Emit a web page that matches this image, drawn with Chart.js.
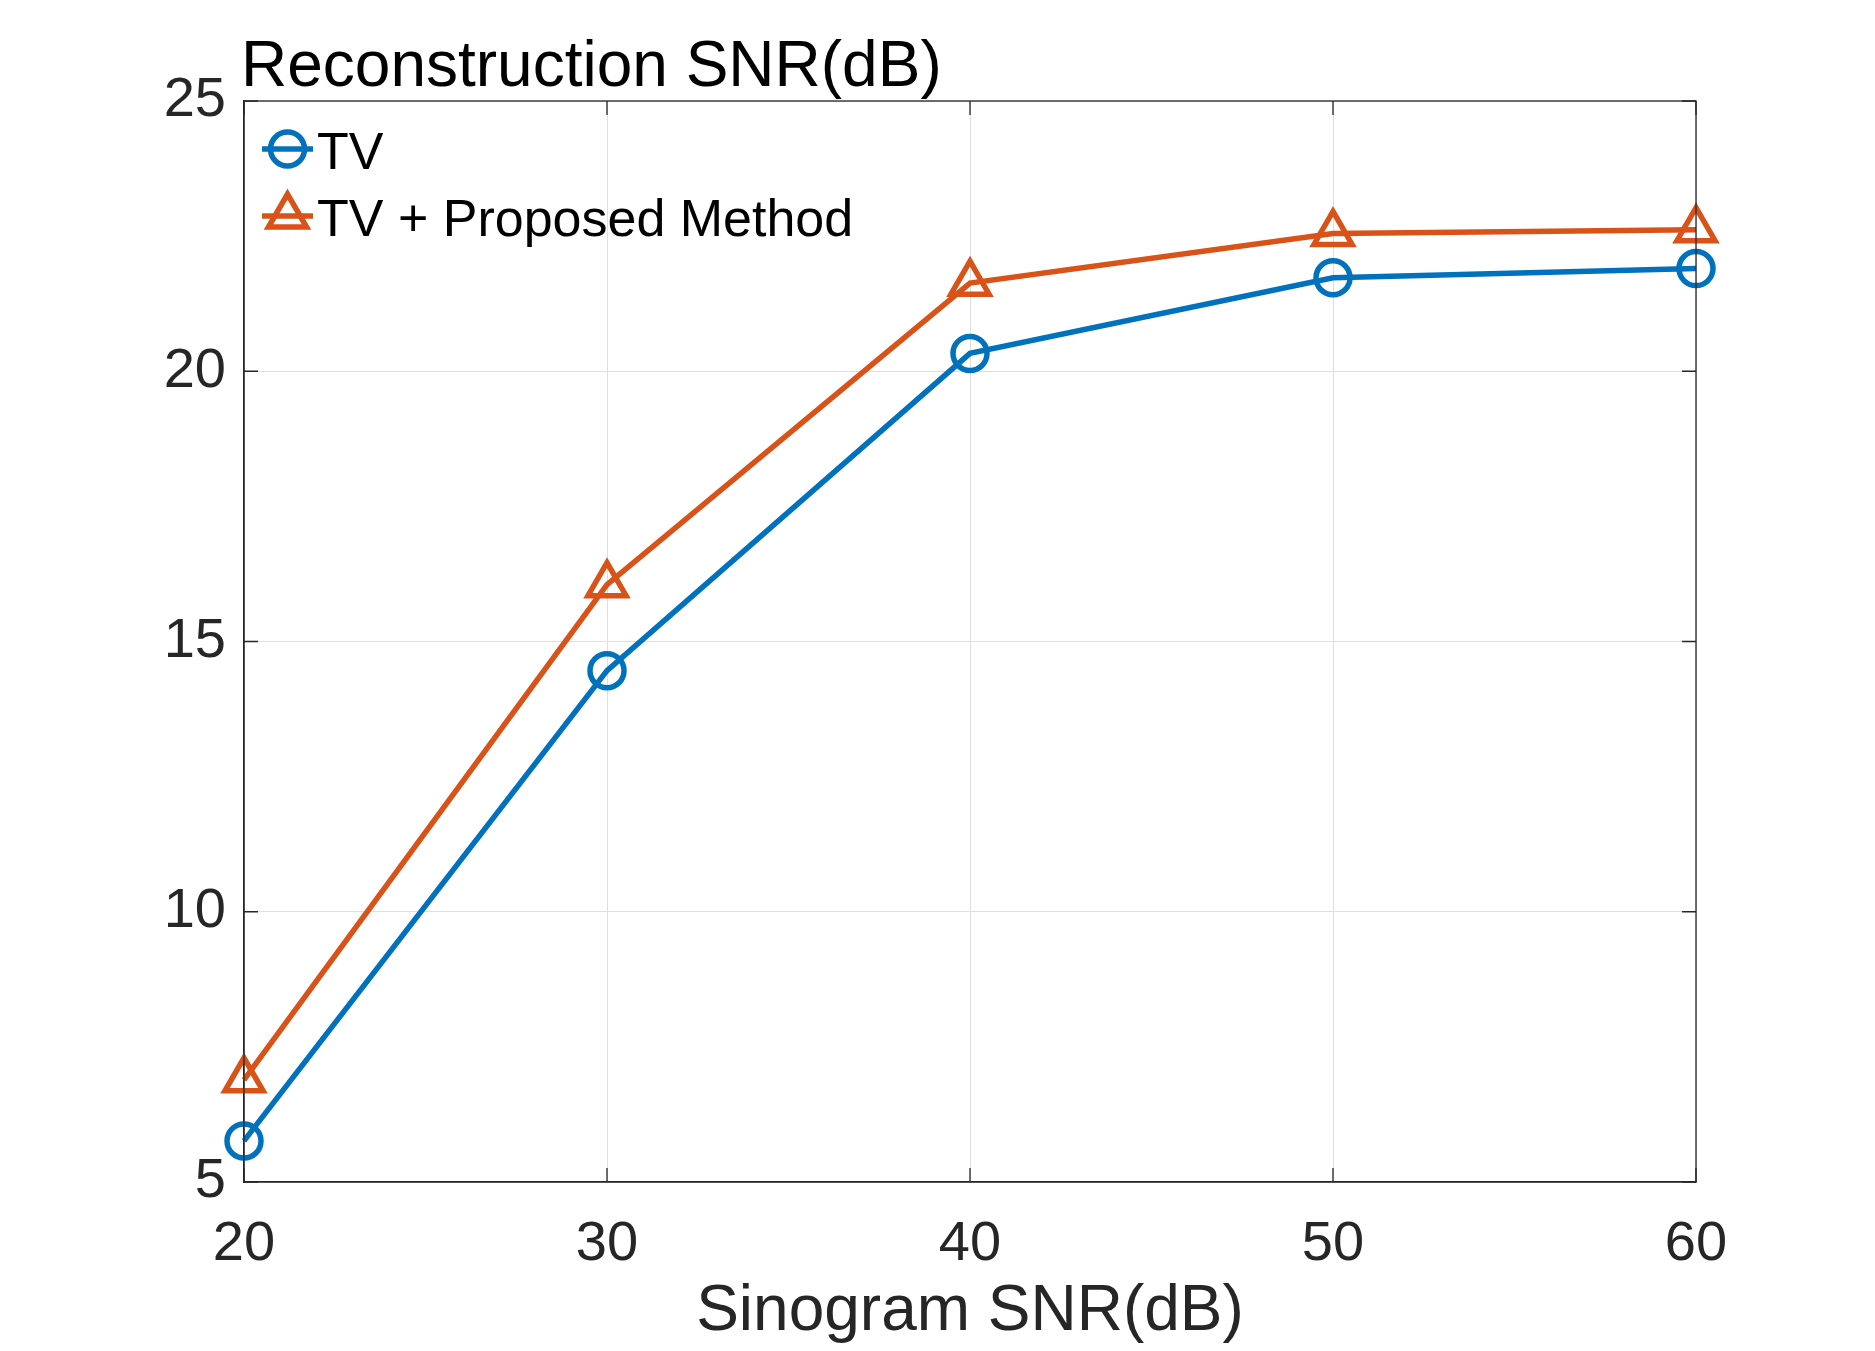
<!DOCTYPE html>
<html lang="en">
<head>
    <meta charset="UTF-8">
    <title>Reconstruction SNR</title>
    <script src="https://cdn.jsdelivr.net/npm/chart.js"></script>
    <style>
        body {
            margin: 0;
            background-color: #ffffff;
        }
        .chart-box {
            width: 1875px;
            height: 1351px;
        }
    </style>
</head>
<body>
    <div class="chart-box">
        <canvas id="snrChart" width="1875" height="1351"></canvas>
    </div>

    <script>
        // values
        const sinogramSnr = [20, 30, 40, 50, 60];
        const tvSnr = [5.76, 14.46, 20.33, 21.73, 21.9];
        const proposedSnr = [6.89, 16.05, 21.63, 22.55, 22.62];
        const xTicks = [20, 30, 40, 50, 60];
        const yTicks = [5, 10, 15, 20, 25];
        const seriesNames = ['TV', 'TV + Proposed Method'];

        const FONT = '"Liberation Sans", Arial, Helvetica, sans-serif';
        const AXIS_COLOR = '#262626';
        const GRID_COLOR = '#dfdfdf';
        const LINE_W = 5.5;

        const toPoints = ys => sinogramSnr.map((x, i) => ({ x: x, y: ys[i] }));

        // box, inner tick marks, title and legend, drawn the MATLAB way
        const matlabFrame = {
            id: 'matlabFrame',
            afterDraw(chart) {
                const { ctx, chartArea: a, scales: { x, y } } = chart;
                ctx.save();
                ctx.strokeStyle = AXIS_COLOR;
                ctx.lineWidth = 1.3;
                ctx.strokeRect(a.left, a.top, a.right - a.left, a.bottom - a.top);

                ctx.beginPath();
                xTicks.forEach(v => {
                    const px = x.getPixelForValue(v);
                    ctx.moveTo(px, a.bottom); ctx.lineTo(px, a.bottom - 14);
                    ctx.moveTo(px, a.top); ctx.lineTo(px, a.top + 14);
                });
                yTicks.forEach(v => {
                    const py = y.getPixelForValue(v);
                    ctx.moveTo(a.left, py); ctx.lineTo(a.left + 14, py);
                    ctx.moveTo(a.right, py); ctx.lineTo(a.right - 14, py);
                });
                ctx.stroke();

                // title, left aligned on the axes
                ctx.fillStyle = '#000000';
                ctx.textAlign = 'left';
                ctx.textBaseline = 'alphabetic';
                ctx.font = '64px ' + FONT;
                ctx.fillText('Reconstruction SNR(dB)', a.left - 3, a.top - 15);

                // legend in the upper left corner
                chart.data.datasets.forEach((ds, i) => {
                    const cy = a.top + 48 + i * 67;
                    ctx.strokeStyle = ds.borderColor;
                    ctx.lineWidth = LINE_W;
                    ctx.beginPath();
                    ctx.moveTo(a.left + 18, cy);
                    ctx.lineTo(a.left + 69, cy);
                    ctx.stroke();
                    ctx.fillStyle = 'rgba(0,0,0,0)';
                    Chart.helpers.drawPoint(ctx, {
                        pointStyle: ds.pointStyle,
                        radius: ds.pointRadius,
                        borderWidth: LINE_W,
                        rotation: 0
                    }, a.left + 43.5, cy);
                    ctx.fillStyle = '#000000';
                    ctx.font = '52px ' + FONT;
                    ctx.fillText(ds.label, a.left + 73, cy + 19.5);
                });
                ctx.restore();
            }
        };

        const tickFont = { family: FONT, size: 56 };

        new Chart(document.getElementById('snrChart').getContext('2d'), {
            type: 'line',
            data: {
                datasets: [{
                    label: seriesNames[0],
                    data: toPoints(tvSnr),
                    borderColor: '#0072BD',
                    backgroundColor: 'rgba(0,0,0,0)',
                    pointBackgroundColor: 'rgba(0,0,0,0)',
                    pointBorderColor: '#0072BD',
                    borderWidth: LINE_W,
                    pointBorderWidth: LINE_W,
                    pointStyle: 'circle',
                    pointRadius: 17,
                    pointHoverRadius: 17,
                    tension: 0,
                    clip: false
                }, {
                    label: seriesNames[1],
                    data: toPoints(proposedSnr),
                    borderColor: '#D95319',
                    backgroundColor: 'rgba(0,0,0,0)',
                    pointBackgroundColor: 'rgba(0,0,0,0)',
                    pointBorderColor: '#D95319',
                    borderWidth: LINE_W,
                    pointBorderWidth: LINE_W,
                    pointStyle: 'triangle',
                    pointRadius: 22,
                    pointHoverRadius: 22,
                    tension: 0,
                    clip: false
                }]
            },
            options: {
                responsive: false,
                animation: false,
                devicePixelRatio: 1,
                layout: { padding: { left: 0, top: 101, right: 179, bottom: 0 } },
                plugins: {
                    legend: { display: false },
                    tooltip: { enabled: false }
                },
                scales: {
                    x: {
                        type: 'linear',
                        min: 20,
                        max: 60,
                        afterBuildTicks: s => { s.ticks = xTicks.map(v => ({ value: v })); },
                        afterFit: s => { s.height = 169; },
                        ticks: { font: tickFont, color: AXIS_COLOR, padding: 29, maxRotation: 0 },
                        grid: { color: GRID_COLOR, lineWidth: 1, drawTicks: false },
                        border: { display: true, color: AXIS_COLOR, width: 1.3 },
                        title: {
                            display: true,
                            text: 'Sinogram SNR(dB)',
                            color: AXIS_COLOR,
                            font: { family: FONT, size: 64 },
                            padding: { top: 0, bottom: 0 }
                        }
                    },
                    y: {
                        type: 'linear',
                        min: 5,
                        max: 25,
                        afterBuildTicks: s => { s.ticks = yTicks.map(v => ({ value: v })); },
                        afterFit: s => { s.width = 244; },
                        ticks: { font: tickFont, color: AXIS_COLOR, padding: 18 },
                        grid: { color: GRID_COLOR, lineWidth: 1, drawTicks: false },
                        border: { display: true, color: AXIS_COLOR, width: 1.3 }
                    }
                }
            },
            plugins: [matlabFrame]
        });
    </script>
</body>
</html>
